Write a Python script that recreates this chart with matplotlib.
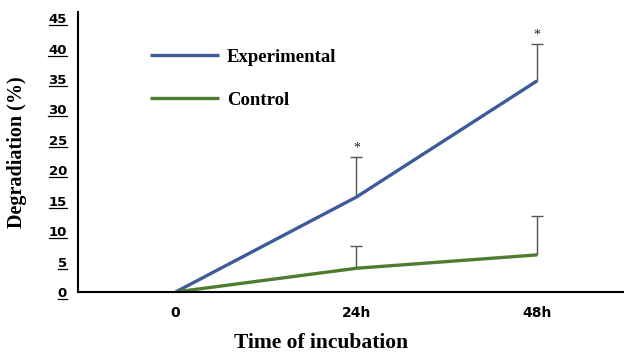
import numpy as np
import matplotlib.pyplot as plt
from matplotlib.lines import Line2D

time_labels = ['0', '24h', '48h']
experimental = [0, 15.6, 34.7]
experimental_err = [0, 6.6, 6.0]
control = [0, 3.9, 6.1]
control_err = [0, 3.7, 6.4]
y_ticks = [0, 5, 10, 15, 20, 25, 30, 35, 40, 45]

blue = '#3d5b98'
green = '#4e7d31'

fig = plt.figure(figsize=(6.24, 3.54), dpi=100)
ax = fig.add_axes([78/624, 62/354, 546/624, 280/354])

x = np.arange(len(time_labels))
ax.plot(x, experimental, color=blue, lw=2.4, solid_capstyle='butt', label='Experimental')
ax.plot(x, control, color=green, lw=2.4, solid_capstyle='butt', label='Control')

# one-sided (upper) error bars
cap = 0.033
for ys, es in [(experimental, experimental_err), (control, control_err)]:
    xe = x[1:]
    lo = np.array(ys[1:])
    hi = lo + np.array(es[1:])
    ax.vlines(xe, lo, hi, color='#555555', lw=1.0, zorder=1)
    ax.hlines(hi, xe - cap, xe + cap, color='#555555', lw=1.0, zorder=1)

# significance stars
for xi, yi, ei in zip(x[1:], experimental[1:], experimental_err[1:]):
    ax.text(xi, yi + ei + 0.4, '*', ha='center', va='bottom', fontsize=10,
            family='Liberation Serif', color='#222222')

ax.set_xlim(-0.54, 2.48)
ax.set_ylim(0, 46)
ax.set_xticks(x)
ax.set_xticklabels(time_labels, fontsize=10, family='DejaVu Sans', fontweight='bold')
ax.set_yticks(y_ticks)
ax.set_yticklabels([str(v) for v in y_ticks], fontsize=9.5, family='DejaVu Sans',
                   fontweight='bold')
ax.tick_params(axis='y', length=0, pad=8)
ax.tick_params(axis='x', length=0, pad=10)

for s in ['top', 'right']:
    ax.spines[s].set_visible(False)
ax.spines['left'].set_linewidth(1.5)
ax.spines['bottom'].set_linewidth(1.5)

ax.set_ylabel('Degradiation (%)', family='Liberation Serif', fontweight='bold',
              fontsize=14.5)
ax.yaxis.set_label_coords(-0.093, 0.5)
ax.set_xlabel('Time of incubation', family='Liberation Serif', fontweight='bold',
              fontsize=15.5)
ax.xaxis.set_label_coords(0.446, -0.146)

ax.legend(loc='upper left', bbox_to_anchor=(0.132, 0.869), frameon=False,
          prop={'family': 'Liberation Serif', 'weight': 'bold', 'size': 13.5},
          handlelength=3.7, labelspacing=1.38, handletextpad=0.4,
          borderpad=0, borderaxespad=0)

# underline the y tick labels
fig.canvas.draw()
inv = fig.transFigure.inverted()
for lab in ax.get_yticklabels():
    bb = lab.get_window_extent()
    (x0, y0), (x1, _) = inv.transform([(bb.x0, bb.y0 + 1), (bb.x1, bb.y0)])
    fig.add_artist(Line2D([x0, x1], [y0, y0], transform=fig.transFigure,
                          color='black', lw=0.9))

fig.savefig('out.png', dpi=100)
